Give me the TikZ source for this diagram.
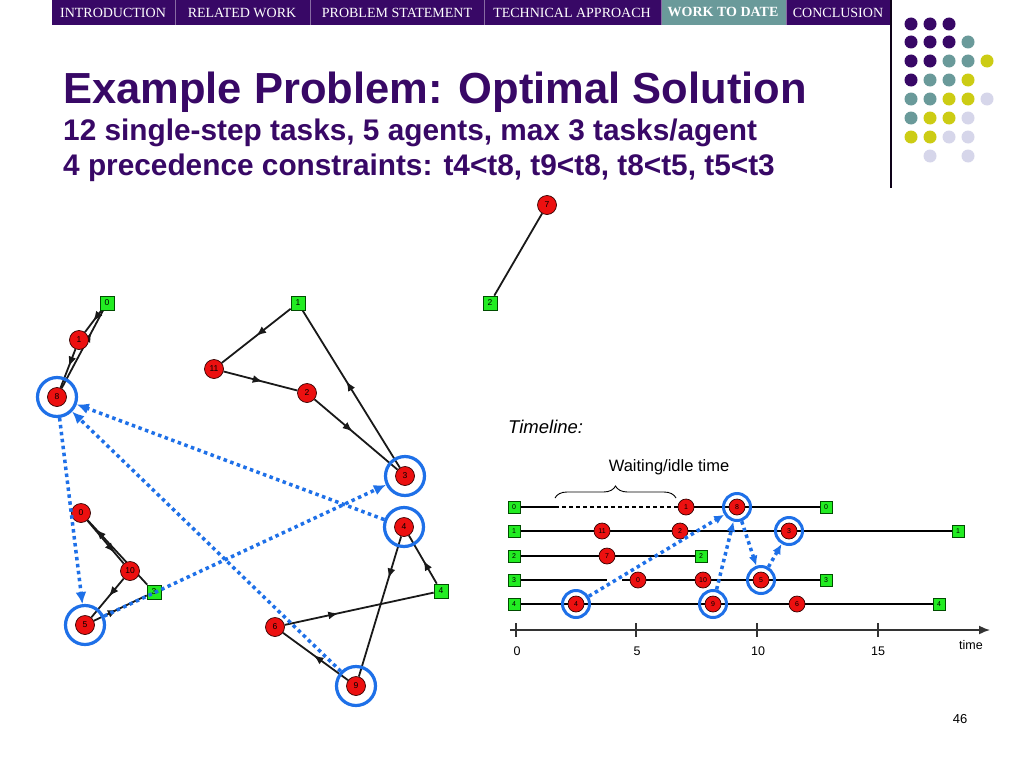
\documentclass[tikz,border=0pt]{standalone}
\usepackage{fontspec}
\setmainfont{Liberation Sans}
\newfontfamily\navfont{Liberation Serif}
\usepackage{xcolor}
\usepackage{tikz}
\usetikzlibrary{arrows.meta,decorations.markings,decorations.pathreplacing,backgrounds}
\definecolor{navpurple}{RGB}{56,8,102}
\definecolor{navteal}{RGB}{106,154,154}
\definecolor{dotyellow}{RGB}{204,204,20}
\definecolor{dotlav}{RGB}{214,214,234}
\definecolor{taskred}{RGB}{236,16,16}
\definecolor{depotgreen}{RGB}{34,236,34}
\definecolor{precblue}{RGB}{30,112,232}
\newcommand{\myarrow}{-{Latex[length=11pt,width=9pt]}}
\newcommand{\lblfont}{\fontsize{8.5}{8.5}\selectfont}
\tikzset{
  navitem/.style={text=white,inner sep=0pt,font=\navfont\fontsize{14}{14}\selectfont},
  task/.style={circle,draw=black!80!red,line width=0.7pt,fill=taskred,minimum size=19pt,inner sep=0pt,font=\lblfont},
  depot/.style={rectangle,draw=black!70!green,line width=0.7pt,fill=depotgreen,minimum size=14pt,inner sep=0pt,font=\lblfont},
  ring/.style={circle,draw=precblue,line width=3.2pt,minimum size=39pt,inner sep=0pt},
  ttask/.style={task,minimum size=16pt,font=\fontsize{7}{7}\selectfont},
  tdepot/.style={depot,minimum size=12pt,font=\fontsize{7}{7}\selectfont},
  tring/.style={ring,line width=3pt,minimum size=27pt},
  route/.style={draw=black!90,line width=1.8pt,postaction={decorate},
    decoration={markings,mark=at position #1 with {\arrow{Latex[length=10pt,width=8pt]}}}},
  route/.default=0.5,
  prec/.style={draw=precblue,line width=3.5pt,dash pattern=on 3.5pt off 3.5pt,-{Latex[length=12pt,width=11pt]}},
  tprec/.style={prec,-{Latex[length=10pt,width=9pt]}},
  row/.style={draw=black,line width=1.7pt},
}

\begin{document}
\begin{tikzpicture}[x=1pt,y=-1pt]
\useasboundingbox (0,0) rectangle (1024,768);
% navigation bar
\fill[navpurple] (52,0) rectangle (890,25);
\fill[navteal] (661,0) rectangle (786,25);
\draw[navpurple!60!white,line width=0.6pt] (175,0) -- (175,25) (310,0) -- (310,25) (484,0) -- (484,25)
  (661,0) -- (661,25) (786,0) -- (786,25);
\node[navitem] (nav1) at (113,13) {INTRODUCTION};
\node[navitem] (nav2) at (242,13) {RELATED WORK};
\node[navitem] (nav3) at (397,13) {PROBLEM STATEMENT};
\node[navitem] (nav4) at (572,13) {TECHNICAL APPROACH};
\node[navitem,font=\navfont\bfseries\fontsize{14}{14}\selectfont] (nav5) at (723,12) {WORK TO DATE};
\node[navitem] (nav6) at (838,13) {CONCLUSION};
\draw[black!75!navpurple,line width=1.5pt] (891,0) -- (891,188);
% logo dots
\fill[navpurple] (911,24) circle (6.5pt) (930,24) circle (6.5pt) (949,24) circle (6.5pt)
  (911,42) circle (6.5pt) (930,42) circle (6.5pt) (949,42) circle (6.5pt)
  (911,61) circle (6.5pt) (930,61) circle (6.5pt) (911,80) circle (6.5pt);
\fill[navteal] (968,42) circle (6.5pt) (949,61) circle (6.5pt) (968,61) circle (6.5pt)
  (930,80) circle (6.5pt) (949,80) circle (6.5pt) (911,99) circle (6.5pt)
  (930,99) circle (6.5pt) (911,118) circle (6.5pt);
\fill[dotyellow] (987,61) circle (6.5pt) (968,80) circle (6.5pt) (949,99) circle (6.5pt)
  (968,99) circle (6.5pt) (930,118) circle (6.5pt) (949,118) circle (6.5pt)
  (911,137) circle (6.5pt) (930,137) circle (6.5pt);
\fill[dotlav] (987,99) circle (6.5pt) (968,118) circle (6.5pt) (949,137) circle (6.5pt)
  (968,137) circle (6.5pt) (930,156) circle (6.5pt) (968,156) circle (6.5pt);
% title
\node[anchor=base west,inner sep=0pt,text=navpurple,font=\fontsize{43.5}{43.5}\selectfont\bfseries] (title) at (63,103) {Example Problem: Optimal Solution};
\node[anchor=base west,inner sep=0pt,text=navpurple,font=\fontsize{29.8}{29.8}\selectfont\bfseries] (sub1) at (63,140) {12 single-step tasks, 5 agents, max 3 tasks/agent};
\node[anchor=base west,inner sep=0pt,text=navpurple,font=\fontsize{29.8}{29.8}\selectfont\bfseries] (sub2) at (63,175) {4 precedence constraints: t4<t8, t9<t8, t8<t5, t5<t3};

% routes graph
\node[depot] (d0) at (107,303) {0};
\node[task] (t1) at (79,340) {1};
\node[task] (t8) at (57,397) {8};
\node[depot] (d1) at (298,303) {1};
\node[task] (t11) at (214,369) {11};
\node[task] (t2) at (307,393) {2};
\node[task] (t3) at (405,476) {3};
\node[depot] (d2) at (490,303) {2};
\node[task] (t7) at (547,205) {7};
\node[task] (t0) at (81,513) {0};
\node[task] (t10) at (130,571) {10};
\node[depot] (d3) at (154,592) {3};
\node[task] (t5) at (85,625) {5};
\node[task] (t4) at (404,527) {4};
\node[depot] (d4) at (441,591) {4};
\node[task] (t6) at (275,627) {6};
\node[task] (t9) at (356,686) {9};
\node[ring] (r8) at (t8) {};
\node[ring] (r3) at (t3) {};
\node[ring] (r5) at (t5) {};
\node[ring] (r4) at (t4) {};
\node[ring] (r9) at (t9) {};
\draw[prec] (r4) -- (r8);
\draw[prec] (r9) -- (r8);
\draw[prec] (r8) -- (r5);
\draw[prec] (r5) -- (r3);

% timeline
\node[anchor=base west,inner sep=0pt,font=\fontsize{18.5}{18.5}\selectfont\itshape] (tlhead) at (508,433) {Timeline:};
\node[inner sep=0pt,font=\fontsize{16.5}{16.5}\selectfont] (idle) at (669,467) {Waiting/idle time};
\coordinate (bl) at (555,498);
\coordinate (br) at (676,498);
\draw[decorate,decoration={brace,amplitude=12pt},line width=0.9pt] (bl) -- (br);

\node[tdepot] (s0) at (514,507) {0};
\node[ttask] (l1) at (686,507) {1};
\node[ttask] (l8) at (737,507) {8};
\node[tdepot] (e0) at (826,507) {0};
\coordinate (w0) at (555,507);
\node[tdepot] (s1) at (514,531) {1};
\node[ttask] (l11) at (602,531) {11};
\node[ttask] (l2) at (680,531) {2};
\node[ttask] (l3) at (789,531) {3};
\node[tdepot] (e1) at (958,531) {1};
\node[tdepot] (s2) at (514,556) {2};
\node[ttask] (l7) at (607,556) {7};
\node[tdepot] (e2) at (701,556) {2};
\node[tdepot] (s3) at (514,580) {3};
\coordinate (g3a) at (607,580);
\coordinate (g3b) at (622,580);
\node[ttask] (l0) at (638,580) {0};
\node[ttask] (l10) at (703,580) {10};
\node[ttask] (l5) at (761,580) {5};
\node[tdepot] (e3) at (826,580) {3};
\node[tdepot] (s4) at (514,604) {4};
\node[ttask] (l4) at (576,604) {4};
\node[ttask] (l9) at (713,604) {9};
\node[ttask] (l6) at (797,604) {6};
\node[tdepot] (e4) at (939,604) {4};
\node[tring] (q8) at (l8) {};
\node[tring] (q3) at (l3) {};
\node[tring] (q5) at (l5) {};
\node[tring] (q4) at (l4) {};
\node[tring] (q9) at (l9) {};
\draw[tprec] (q4) -- (q8);
\draw[tprec] (q9) -- (q8);
\draw[tprec] (q8) -- (q5);
\draw[tprec] (q5) -- (q3);

% time axis
\coordinate (ax0) at (510,630);
\coordinate (ax1) at (990,630);
\draw[black!80,line width=1.6pt,\myarrow] (ax0) -- (ax1);
\draw[black!80,line width=1.2pt] (516,623) -- (516,637) (636,623) -- (636,637) (757,623) -- (757,637) (878,623) -- (878,637);
\node[font=\fontsize{12.5}{12.5}\selectfont] (x0) at (517,651) {0};
\node[font=\fontsize{12.5}{12.5}\selectfont] (x5) at (637,651) {5};
\node[font=\fontsize{12.5}{12.5}\selectfont] (x10) at (758,651) {10};
\node[font=\fontsize{12.5}{12.5}\selectfont] (x15) at (878,651) {15};
\node[font=\fontsize{12.5}{12.5}\selectfont] (xt) at (971,645) {time};
\node[font=\fontsize{13}{13}\selectfont] (page) at (960,719) {46};

\begin{scope}[on background layer]
\fill[white] (0,0) rectangle (1024,768);
% agent 0
\draw[route] (d0) -- (t1);
\draw[route=0.45] (t1) -- (t8);
\draw[route=0.72] (t8) -- (d0);
% agent 1
\draw[route] (d1) -- (t11);
\draw[route=0.53] (t11) -- (t2);
\draw[route=0.46] (t2) -- (t3);
\draw[route=0.55] (t3) -- (d1);
% agent 2
\draw[draw=black!90,line width=1.8pt] (d2) -- (t7);
% agent 3
\draw[route=0.86] (d3) -- (t0);
\draw[route=0.75] (t0) -- (t10);
\draw[route=0.46] (t10) -- (t5);
\draw[route=0.45] (t5) -- (d3);
% agent 4
\draw[route=0.48] (d4) -- (t4);
\draw[route=0.3] (t4) -- (t9);
\draw[route=0.53] (t9) -- (t6);
\draw[route=0.36] (t6) -- (d4);
% timeline rows
\draw[row] (s0) -- (w0);
\draw[row,dash pattern=on 4pt off 3pt] (w0) -- (l1);
\draw[row] (l1) -- (e0);
\draw[row] (s1) -- (e1);
\draw[row] (s2) -- (e2);
\draw[row] (s3) -- (g3a);
\draw[row] (g3b) -- (e3);
\draw[row] (s4) -- (e4);
\end{scope}
\end{tikzpicture}
\end{document}
